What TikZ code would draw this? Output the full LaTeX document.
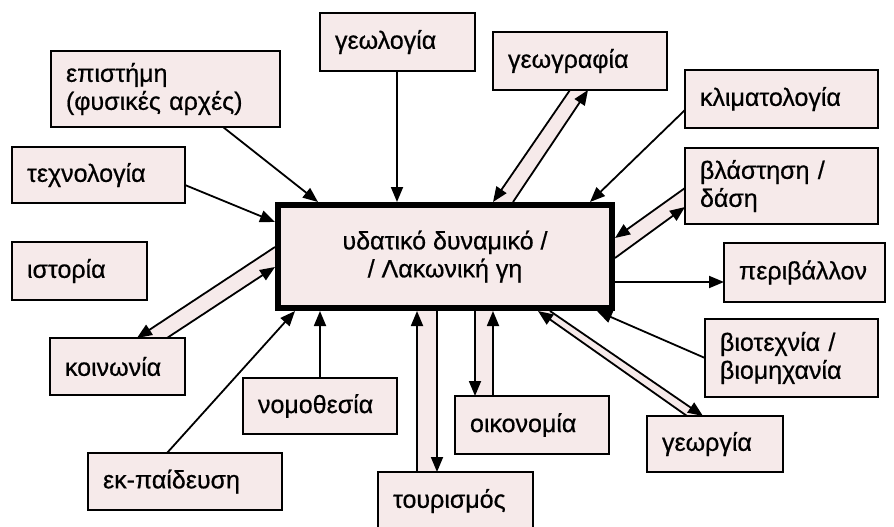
\documentclass[tikz,border=0pt]{standalone}
\usepackage{fontspec}
\setmainfont{Liberation Sans}[FakeBold=0.6]
\usetikzlibrary{arrows.meta,calc,backgrounds}
\definecolor{boxpink}{RGB}{246,234,234}
\begin{document}
\begin{tikzpicture}[x=1pt,y=-1pt,
  bx/.style={draw, line width=1.8pt, fill=boxpink, anchor=north west,
    inner xsep=15pt, inner ysep=2pt, outer sep=0pt, align=left,
    font=\fontsize{25}{28}\selectfont},
  arr/.style={line width=1.8pt, -{Triangle[length=15pt,width=12pt]}},
  band/.style={fill=boxpink}]
\useasboundingbox (0,0) rectangle (894,527);
\begin{scope}
\clip (0,0) rectangle (894,527);
% boxes
\node[bx, minimum width=229pt, minimum height=76pt, text width=199pt] (epi) at (51,51) {επιστήμη\\\mbox{(φυσικές αρχές)}};
\node[bx, minimum width=173pt, minimum height=56pt, text width=143pt] (tech) at (12,147) {τεχνολογία};
\node[bx, minimum width=135pt, minimum height=58pt, text width=105pt] (ist) at (12,242) {ιστορία};
\node[bx, minimum width=155pt, minimum height=58pt, text width=125pt] (geol) at (320,13) {γεωλογία};
\node[bx, minimum width=174pt, minimum height=58pt, text width=144pt] (geog) at (493,32) {γεωγραφία};
\node[bx, minimum width=193pt, minimum height=58pt, text width=163pt] (klim) at (685,70) {κλιματολογία};
\node[bx, minimum width=193pt, minimum height=76pt, text width=163pt] (vlas) at (685,148) {\mbox{βλάστηση /}\\δάση};
\node[bx, minimum width=161pt, minimum height=59pt, text width=131pt] (peri) at (724,243) {περιβάλλον};
\node[bx, minimum width=173pt, minimum height=78pt, text width=143pt] (viot) at (705,319) {\mbox{βιοτεχνία /}\\βιομηχανία};
\node[bx, minimum width=136pt, minimum height=56pt, text width=106pt] (georg) at (647,416) {γεωργία};
\node[bx, minimum width=154pt, minimum height=58pt, text width=124pt] (oik) at (455,396) {οικονομία};
\node[bx, minimum width=155pt, minimum height=58pt, text width=125pt] (tour) at (378,472) {τουρισμός};
\node[bx, minimum width=154pt, minimum height=56pt, text width=124pt] (nomo) at (243,378) {νομοθεσία};
\node[bx, minimum width=135pt, minimum height=57pt, text width=105pt] (koin) at (50,338) {κοινωνία};
\node[bx, minimum width=194pt, minimum height=57pt, text width=164pt] (ekp) at (88,453) {εκ-παίδευση};
\node[bx, anchor=center, line width=6pt, align=center, minimum width=334pt, minimum height=103pt, inner sep=0pt] (ctr) at (445,256.5) {υδατικό δυναμικό /\\/ Λακωνική γη};
% pair end points
\coordinate (gA1) at ($(geog.south west)+(77,0)$);
\coordinate (gA2) at ($(ctr.north west)+(215,-3)$);
\coordinate (gB1) at ($(ctr.north west)+(235,-3)$);
\coordinate (gB2) at ($(geog.south west)+(95,0)$);
\coordinate (vA1) at ($(vlas.north west)+(0,40)$);
\coordinate (vA2) at ($(ctr.north east)+(3,33)$);
\coordinate (vB1) at ($(ctr.north east)+(3,53)$);
\coordinate (vB2) at ($(vlas.north west)+(0,59)$);
\coordinate (eA1) at ($(georg.north west)+(40,0)$);
\coordinate (eA2) at ($(ctr.south west)+(260,3)$);
\coordinate (eB1) at ($(ctr.south west)+(272,3)$);
\coordinate (eB2) at ($(georg.north west)+(56,0)$);
\coordinate (oA1) at ($(ctr.south west)+(197,3)$);
\coordinate (oA2) at ($(oik.north west)+(20,0)$);
\coordinate (oB1) at ($(oik.north west)+(38,0)$);
\coordinate (oB2) at ($(ctr.south west)+(215,3)$);
\coordinate (tA1) at ($(tour.north west)+(39,0)$);
\coordinate (tA2) at ($(ctr.south west)+(139,3)$);
\coordinate (tB1) at ($(ctr.south west)+(159,3)$);
\coordinate (tB2) at ($(tour.north west)+(59,0)$);
\coordinate (kA1) at ($(ctr.north west)+(-3,42)$);
\coordinate (kA2) at ($(koin.north west)+(87,0)$);
\coordinate (kB1) at ($(koin.north west)+(117,0)$);
\coordinate (kB2) at ($(ctr.north west)+(-3,62)$);
\begin{pgfonlayer}{background}
\fill[band] (gA1) -- (gA2) -- (gB1) -- (gB2) -- cycle;
\fill[band] (vA1) -- (vA2) -- (vB1) -- (vB2) -- cycle;
\fill[band] (eA1) -- (eA2) -- (eB1) -- (eB2) -- cycle;
\fill[band] (oA1) -- (oA2) -- (oB1) -- (oB2) -- cycle;
\fill[band] (tA1) -- (tA2) -- (tB1) -- (tB2) -- cycle;
\fill[band] (kA1) -- (kA2) -- (kB1) -- (kB2) -- cycle;
\end{pgfonlayer}
% pairs
\draw[arr] (gA1) -- (gA2);
\draw[arr] (gB1) -- (gB2);
\draw[arr] (vA1) -- (vA2);
\draw[arr] (vB1) -- (vB2);
\draw[arr] (eA1) -- (eA2);
\draw[arr] (eB1) -- (eB2);
\draw[arr] (oA1) -- (oA2);
\draw[arr] (oB1) -- (oB2);
\draw[arr] (tA1) -- (tA2);
\draw[arr] (tB1) -- (tB2);
\draw[arr] (kA1) -- (kA2);
\draw[arr] (kB1) -- (kB2);
% single arrows
\draw[arr] ($(epi.south west)+(172,0)$) -- ($(ctr.north west)+(40,-3)$);
\draw[arr] ($(tech.north east)+(0,38)$) -- ($(ctr.north west)+(-3,17)$);
\draw[arr] ($(geol.south west)+(77,0)$) -- ($(ctr.north west)+(119,-3)$);
\draw[arr] ($(klim.north west)+(0,40)$) -- ($(ctr.north east)+(-22,-3)$);
\draw[arr] ($(ctr.north east)+(0,77)$) -- ($(peri.north west)+(0,39)$);
\draw[arr] ($(viot.north west)+(0,39)$) -- ($(ctr.south east)+(-15,3)$);
\draw[arr] ($(nomo.north west)+(77,0)$) -- ($(ctr.south west)+(42,3)$);
\draw[arr] ($(ekp.north west)+(79,0)$) -- ($(ctr.south west)+(17,3)$);
\end{scope}
\end{tikzpicture}
\end{document}
